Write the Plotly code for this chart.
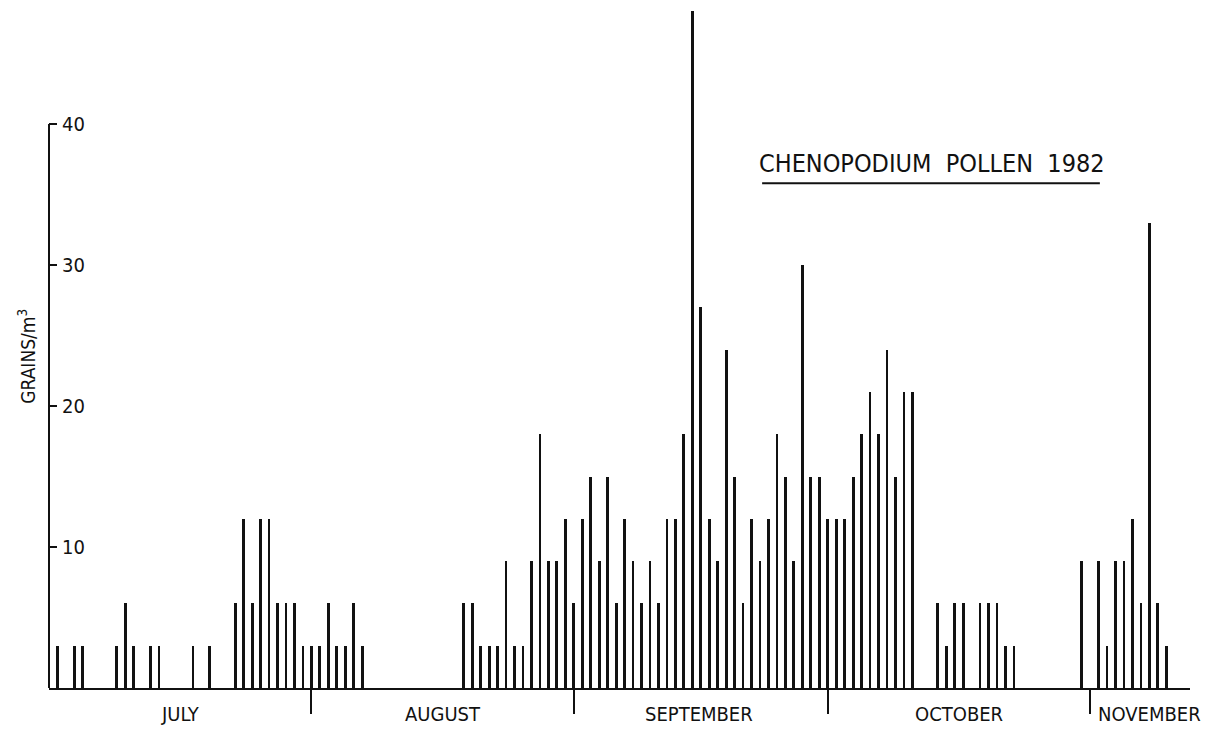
import plotly.graph_objects as go

# Daily Chenopodium pollen counts, 1982 (grains per cubic metre)
dates = [
    "1982-07-02", "1982-07-04", "1982-07-05", "1982-07-09", "1982-07-10", "1982-07-11",
    "1982-07-13", "1982-07-14", "1982-07-18", "1982-07-20", "1982-07-23", "1982-07-24",
    "1982-07-25", "1982-07-26", "1982-07-27", "1982-07-28", "1982-07-29", "1982-07-30",
    "1982-07-31",
    "1982-08-01", "1982-08-02", "1982-08-03", "1982-08-04", "1982-08-05", "1982-08-06",
    "1982-08-07", "1982-08-19", "1982-08-20", "1982-08-21", "1982-08-22", "1982-08-23",
    "1982-08-24", "1982-08-25", "1982-08-26", "1982-08-27", "1982-08-28", "1982-08-29",
    "1982-08-30", "1982-08-31",
    "1982-09-01", "1982-09-02", "1982-09-03", "1982-09-04", "1982-09-05", "1982-09-06",
    "1982-09-07", "1982-09-08", "1982-09-09", "1982-09-10", "1982-09-11", "1982-09-12",
    "1982-09-13", "1982-09-14", "1982-09-15", "1982-09-16", "1982-09-17", "1982-09-18",
    "1982-09-19", "1982-09-20", "1982-09-21", "1982-09-22", "1982-09-23", "1982-09-24",
    "1982-09-25", "1982-09-26", "1982-09-27", "1982-09-28", "1982-09-29", "1982-09-30",
    "1982-10-01", "1982-10-02", "1982-10-03", "1982-10-04", "1982-10-05", "1982-10-06",
    "1982-10-07", "1982-10-08", "1982-10-09", "1982-10-10", "1982-10-11", "1982-10-14",
    "1982-10-15", "1982-10-16", "1982-10-17", "1982-10-19", "1982-10-20", "1982-10-21",
    "1982-10-22", "1982-10-23", "1982-10-31",
    "1982-11-02", "1982-11-03", "1982-11-04", "1982-11-05", "1982-11-06", "1982-11-07",
    "1982-11-08", "1982-11-09", "1982-11-10",
]
grains = [
    3, 3, 3, 3, 6, 3,
    3, 3, 3, 3, 6, 12,
    6, 12, 12, 6, 6, 6,
    3,
    3, 3, 6, 3, 3, 6,
    3, 6, 6, 3, 3, 3,
    9, 3, 3, 9, 18, 9,
    9, 12,
    6, 12, 15, 9, 15, 6,
    12, 9, 6, 9, 6, 12,
    12, 18, 48, 27, 12, 9,
    24, 15, 6, 12, 9, 12,
    18, 15, 9, 30, 15, 15,
    12, 12, 12, 15, 18, 21,
    18, 24, 15, 21, 21, 6,
    3, 6, 6, 6, 6, 6,
    3, 3, 9,
    9, 3, 9, 9, 12, 6,
    33, 6, 3,
]

month_starts = ["1982-07-01", "1982-08-01", "1982-09-01", "1982-10-01", "1982-11-01"]
month_names = ["JULY", "AUGUST", "SEPTEMBER", "OCTOBER", "NOVEMBER"]
month_label_pos = ["1982-07-16 12:00", "1982-08-16 12:00", "1982-09-15 18:00",
                   "1982-10-16 12:00", "1982-11-08 00:00"]
y_ticks = [10, 20, 30, 40]

DAY_MS = 86400000
INK = "#111111"
LETTERING = "DejaVu Sans Condensed, Liberation Sans Narrow, Liberation Sans, sans-serif"

fig = go.Figure()
fig.add_trace(go.Bar(
    x=dates, y=grains, width=0.33 * DAY_MS,
    marker=dict(color=INK, line=dict(width=0)),
    showlegend=False,
))

# month names below the axis, centred in each month
for pos, name in zip(month_label_pos, month_names):
    fig.add_annotation(
        x=pos, xref="x", y=0, yref="y", yshift=-26,
        text=name, showarrow=False, xanchor="center", yanchor="middle",
        font=dict(family=LETTERING, size=20, color=INK),
    )

# vertical axis line, drawn only up to 40
fig.add_shape(type="line", xref="x domain", x0=0, x1=0, yref="y", y0=0, y1=40,
              line=dict(color=INK, width=2))

# title with underline
fig.add_annotation(
    x=0.774, xref="paper", y=37.2, yref="y",
    text="CHENOPODIUM  POLLEN  1982", showarrow=False,
    xanchor="center", yanchor="middle",
    font=dict(family=LETTERING, size=25, color=INK),
)
fig.add_shape(type="line", xref="paper", x0=0.625, x1=0.921, yref="y", y0=35.8, y1=35.8,
              line=dict(color=INK, width=2))

# y-axis title
fig.add_annotation(
    x=0, xref="paper", xshift=-22, y=23.5, yref="y",
    text="GRAINS/m<sup>3</sup>", showarrow=False, textangle=-90,
    xanchor="center", yanchor="middle",
    font=dict(family=LETTERING, size=19, color=INK),
)

fig.update_layout(
    width=1215, height=730,
    margin=dict(l=49, r=25, t=0, b=42),
    paper_bgcolor="white", plot_bgcolor="white",
    bargap=0,
    xaxis=dict(
        type="date", range=["1982-07-01", "1982-11-12 19:12"],
        tickmode="array", tickvals=month_starts, showticklabels=False,
        ticks="outside", ticklen=24, tickwidth=2, tickcolor=INK,
        showline=True, linecolor=INK, linewidth=2,
        showgrid=False, zeroline=False,
    ),
    yaxis=dict(
        range=[0, 48.8], tickmode="array", tickvals=y_ticks,
        ticktext=[str(v) for v in y_ticks],
        ticks="inside", ticklen=8, tickwidth=2, tickcolor=INK,
        ticklabelposition="inside", ticklabelstandoff=6,
        tickfont=dict(family=LETTERING, size=20, color=INK),
        showline=False, showgrid=False, zeroline=False,
    ),
)

fig.write_html("out.html")
